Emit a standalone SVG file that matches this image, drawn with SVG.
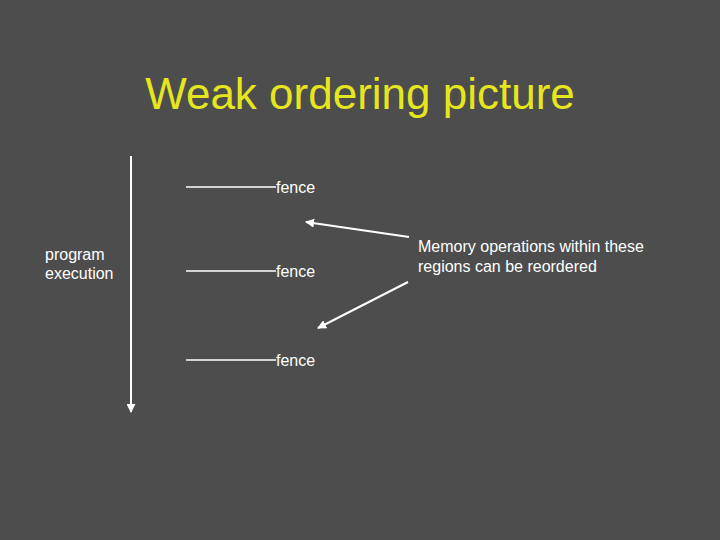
<svg xmlns="http://www.w3.org/2000/svg" width="720" height="540" viewBox="0 0 720 540">
<style>
text{font-family:"Liberation Sans",Arial,sans-serif;fill:#ffffff}
.t{fill:#e6e61e;font-size:44px}
.l{font-size:16px}
.ln{stroke:#ffffff;stroke-width:1.3;fill:none}
.ar{stroke:#ffffff;stroke-width:2;fill:none}
</style>
<defs>
<marker id="ah" viewBox="0 0 10 10" refX="9" refY="5" markerWidth="4.5" markerHeight="4.5" orient="auto" markerUnits="strokeWidth">
<path d="M0,0 L10,5 L0,10 z" fill="#ffffff"/>
</marker>
</defs>
<rect width="720" height="540" fill="#4d4d4d"/>
<g id="title"><text class="t" x="360" y="109" text-anchor="middle">Weak ordering picture</text></g>
<g id="program"><text class="l" x="45" y="260">program</text><text class="l" x="45" y="279">execution</text></g>
<g id="fence1"><line class="ln" x1="186" y1="187" x2="276" y2="187"/><text class="l" x="276" y="193">fence</text></g>
<g id="fence2"><line class="ln" x1="186" y1="271" x2="276" y2="271"/><text class="l" x="276" y="277">fence</text></g>
<g id="fence3"><line class="ln" x1="186" y1="360" x2="276" y2="360"/><text class="l" x="276" y="366">fence</text></g>
<g id="note"><text class="l" x="418" y="252">Memory operations within these</text><text class="l" x="418" y="272">regions can be reordered</text></g>
<g id="connectors">
<line class="ar" x1="131" y1="156" x2="131" y2="412" marker-end="url(#ah)"/>
<line class="ar" x1="409" y1="237" x2="306" y2="222" marker-end="url(#ah)"/>
<line class="ar" x1="408" y1="282" x2="318" y2="328" marker-end="url(#ah)"/>
</g>
</svg>
